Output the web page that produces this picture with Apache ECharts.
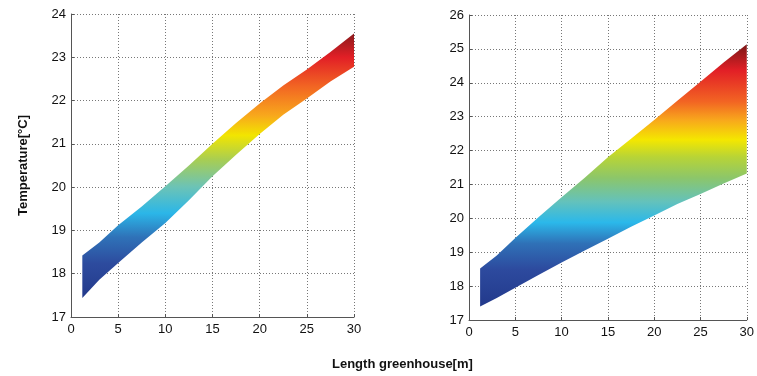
<!DOCTYPE html>
<html>
<head>
<meta charset="utf-8">
<script src="https://cdn.jsdelivr.net/npm/echarts@6/dist/echarts.min.js"></script>
<style>
html,body{margin:0;padding:0;background:#fff;}
#main{width:757px;height:376px;}
</style>
</head>
<body>
<div id="main"></div>
<script>
// length along greenhouse [m]
var lengthX = [1.2, 3, 5, 7.5, 10, 12.5, 15, 17.5, 20, 22.5, 25, 27.5, 30];
// left panel band (lower / upper temperature)
var leftLow = [17.44, 17.86, 18.25, 18.72, 19.17, 19.7, 20.25, 20.75, 21.23, 21.67, 22.05, 22.44, 22.78];
var leftHigh = [18.42, 18.72, 19.12, 19.55, 20.02, 20.5, 21.0, 21.48, 21.93, 22.35, 22.72, 23.12, 23.55];
// right panel band
var rightLow = [17.4, 17.65, 17.95, 18.33, 18.7, 19.05, 19.4, 19.75, 20.08, 20.42, 20.72, 21.03, 21.32];
var rightHigh = [18.52, 18.9, 19.42, 20.03, 20.62, 21.2, 21.8, 22.35, 22.9, 23.47, 24.03, 24.6, 25.14];

var labelFont = {color: '#111', fontSize: 13, fontFamily: 'Liberation Sans'};

function xAxisCfg(idx) {
	return {
		type: 'value', gridIndex: idx, min: 0, max: 30, interval: 5,
		axisLine: {show: true, lineStyle: {color: '#555', width: 1}},
		axisTick: {show: true, inside: true, length: 3, lineStyle: {color: '#555'}},
		axisLabel: Object.assign({margin: 6}, labelFont),
		splitLine: {show: true, lineStyle: {color: '#777', type: [1, 2], width: 1}}
	};
}
function yAxisCfg(idx, min, max, name) {
	return {
		type: 'value', gridIndex: idx, min: min, max: max, interval: 1,
		name: name, nameLocation: 'middle', nameGap: 41,
		nameTextStyle: {color: '#111', fontSize: 13, fontWeight: 'bold', fontFamily: 'Liberation Sans'},
		axisLine: {show: true, lineStyle: {color: '#555', width: 1}},
		axisTick: {show: true, inside: true, length: 3, lineStyle: {color: '#555'}},
		axisLabel: Object.assign({margin: 5}, labelFont),
		splitLine: {show: true, lineStyle: {color: '#777', type: [1, 2], width: 1}}
	};
}
// band drawn as one polygon: upper edge forward, lower edge back
function band(idx, lo, hi, stops) {
	return {
		type: 'custom', xAxisIndex: idx, yAxisIndex: idx, silent: true,
		data: [[lengthX[0], lo[0]]],
		renderItem: function (params, api) {
			var pts = [];
			for (var i = 0; i < lengthX.length; i++) pts.push(api.coord([lengthX[i], hi[i]]));
			for (var j = lengthX.length - 1; j >= 0; j--) pts.push(api.coord([lengthX[j], lo[j]]));
			return {
				type: 'polygon',
				shape: {points: pts},
				style: {fill: new echarts.graphic.LinearGradient(0, 0, 0, 1, stops), stroke: null}
			};
		}
	};
}

var leftStops = [
	{offset: 0, color: '#8a1a1c'},
	{offset: 0.09, color: '#e21f26'},
	{offset: 0.2, color: '#f26523'},
	{offset: 0.31, color: '#f8a81c'},
	{offset: 0.385, color: '#f2e500'},
	{offset: 0.48, color: '#a6cd55'},
	{offset: 0.58, color: '#6cc3b6'},
	{offset: 0.68, color: '#2bb6e8'},
	{offset: 0.77, color: '#2f72b8'},
	{offset: 0.87, color: '#2d4b9e'},
	{offset: 1, color: '#23398b'}
];
var rightStops = [
	{offset: 0, color: '#7a1717'},
	{offset: 0.1, color: '#e21f26'},
	{offset: 0.22, color: '#f26523'},
	{offset: 0.29, color: '#f8a81c'},
	{offset: 0.365, color: '#f4e700'},
	{offset: 0.43, color: '#b8d436'},
	{offset: 0.51, color: '#8cc66a'},
	{offset: 0.6, color: '#64c2bb'},
	{offset: 0.68, color: '#2bb8ea'},
	{offset: 0.76, color: '#2f71b7'},
	{offset: 0.86, color: '#2d4a9e'},
	{offset: 1, color: '#22398b'}
];

var myChart = echarts.init(document.getElementById('main'));
var option = {
	animation: false,
	backgroundColor: '#fff',
	title: {
		text: 'Length greenhouse[m]', left: 327, top: 353,
		textStyle: {color: '#111', fontSize: 13, fontWeight: 'bold', fontFamily: 'Liberation Sans'}
	},
	grid: [
		{left: 71, width: 283, top: 14, height: 303},
		{left: 469, width: 283, top: 15, height: 305}
	],
	xAxis: [xAxisCfg(0), xAxisCfg(1)],
	yAxis: [yAxisCfg(0, 17, 24, 'Temperature[°C]'), yAxisCfg(1, 17, 26, '')],
	series: [band(0, leftLow, leftHigh, leftStops), band(1, rightLow, rightHigh, rightStops)]
};
myChart.setOption(option);
</script>
</body>
</html>
